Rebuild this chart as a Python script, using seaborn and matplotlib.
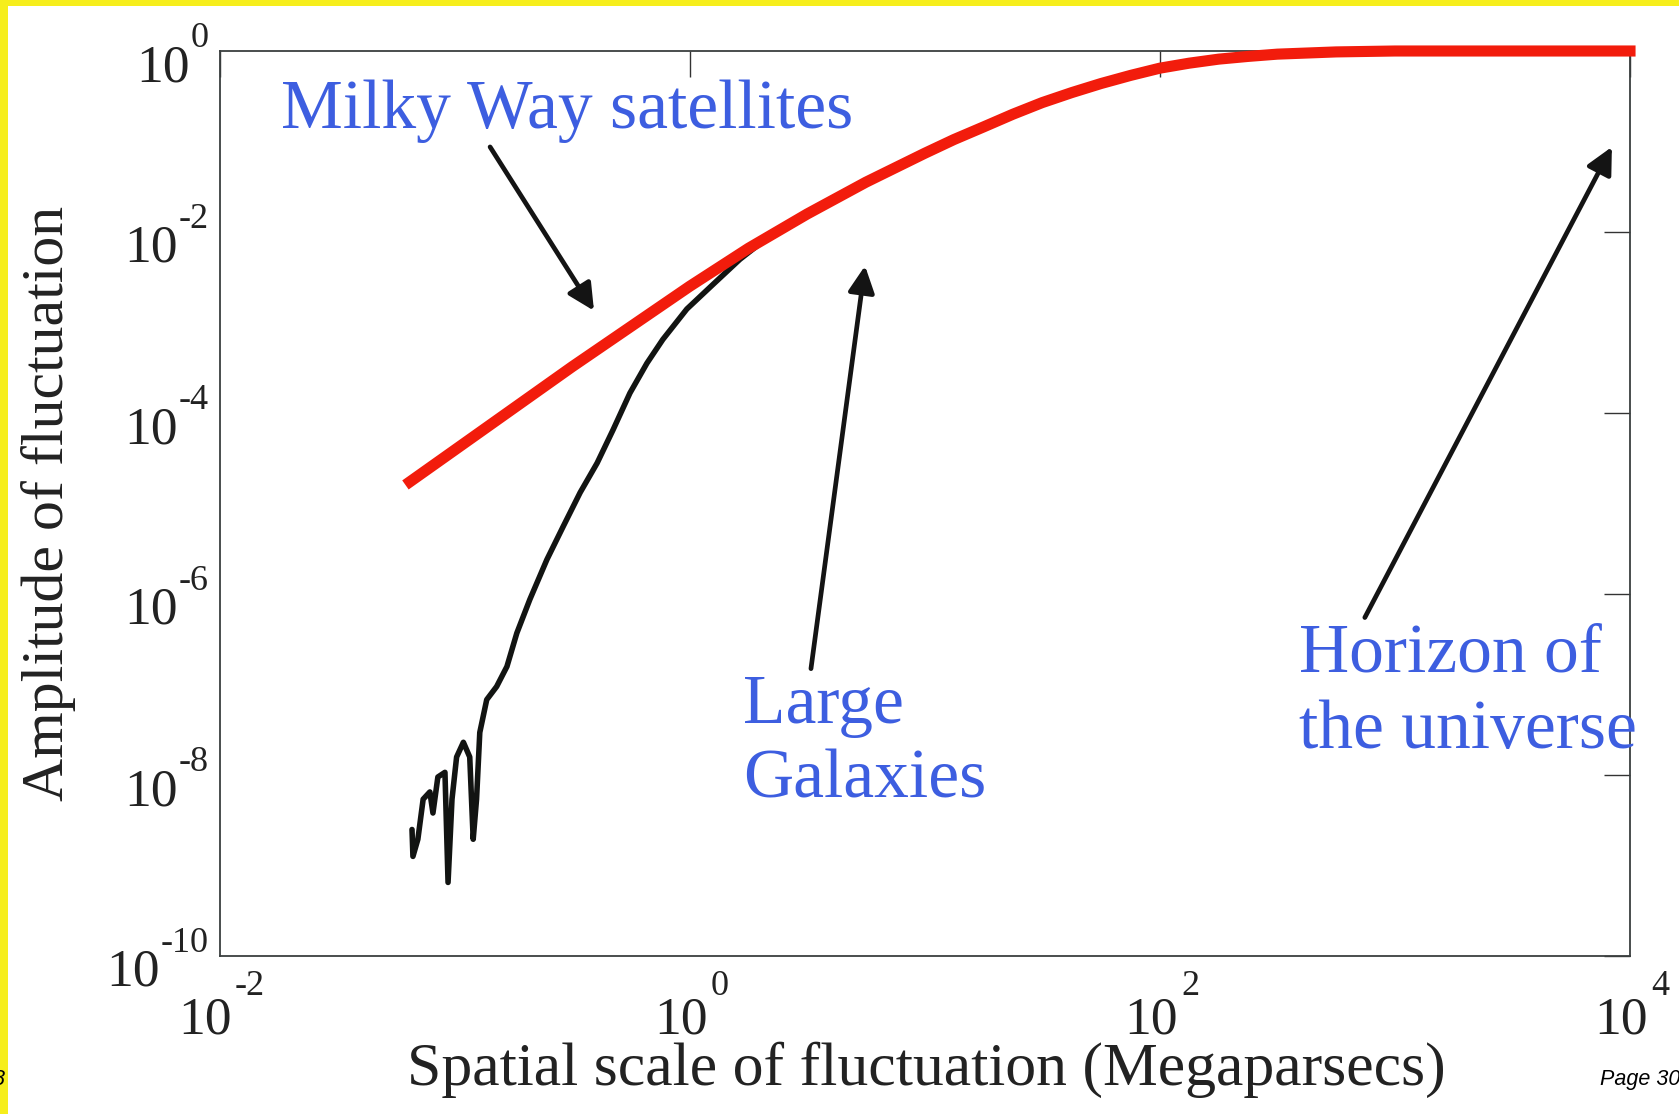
import matplotlib
matplotlib.use("Agg")
import matplotlib.pyplot as plt
from matplotlib.patches import Rectangle
from matplotlib.ticker import FixedLocator, NullFormatter, NullLocator
from matplotlib.transforms import IdentityTransform
import numpy as np
import pandas as pd
import seaborn as sns

# Amplitude of fluctuation vs spatial scale (Mpc)
red_scale = [0.0646, 0.1, 0.316, 1.0, 1.78, 3.16, 5.62, 10.0, 13.3, 17.8,
             23.7, 31.6, 42.2, 56.2, 75.0, 100.0, 133.0, 178.0, 237.0, 316.0,
             562.0, 1000.0, 3160.0, 10000.0]
red_amp = [1.74e-5, 3.89e-5, 3.24e-4, 2.51e-3, 6.61e-3, 0.0158, 0.0355, 0.0741,
           0.105, 0.145, 0.20, 0.269, 0.347, 0.437, 0.537, 0.646, 0.733, 0.813,
           0.871, 0.923, 0.977, 1.0, 1.0, 1.0]

black_scale = [0.0659, 0.0665, 0.0698, 0.0735, 0.0785, 0.0809, 0.0849, 0.0910,
               0.0938, 0.0975, 0.102, 0.109, 0.116, 0.120, 0.124, 0.128,
               0.137, 0.151, 0.167, 0.184, 0.209, 0.247, 0.289, 0.342, 0.404,
               0.472, 0.557, 0.658, 0.769, 0.973, 1.256, 1.637, 2.05, 3.16, 5.62]
black_amp = [2.5e-9, 1.26e-9, 1.95e-9, 5.4e-9, 6.5e-9, 3.8e-9, 9.5e-9, 1.07e-8,
             6.5e-10, 5.4e-9, 1.58e-8, 2.3e-8, 1.58e-8, 1.95e-9, 5.4e-9, 2.95e-8,
             6.8e-8, 9.5e-8, 1.58e-7, 3.7e-7, 8.7e-7, 2.4e-6, 5.5e-6, 1.32e-5,
             2.8e-5, 6.5e-5, 1.66e-4, 3.55e-4, 6.5e-4, 1.41e-3, 2.63e-3, 5.0e-3,
             7.9e-3, 0.0158, 0.0355]

x_ticks = [1e-2, 1e0, 1e2, 1e4]
y_ticks = [1e-10, 1e-8, 1e-6, 1e-4, 1e-2, 1e0]

x_label = "Spatial scale of fluctuation (Megaparsecs)"
y_label = "Amplitude of fluctuation"

sns.set_theme(style="white")
plt.rcParams["font.family"] = ["Liberation Serif", "DejaVu Serif"]

W, H = 1679, 1114
fig = plt.figure(figsize=(W / 100, H / 100), dpi=100, facecolor="white")


def fx(x):
    return x / W


def fy(y):
    return 1 - y / H


ax = fig.add_axes([fx(219.5), fy(956), fx(1630) - fx(219.5), fy(51) - fy(956)])
ax.set_facecolor("white")

black_df = pd.DataFrame({"scale": black_scale, "amp": black_amp})
red_df = pd.DataFrame({"scale": red_scale, "amp": red_amp})

sns.lineplot(data=black_df, x="scale", y="amp", ax=ax, color="#121412",
             lw=4.0, sort=False, estimator=None, zorder=3,
             solid_joinstyle="round")
sns.lineplot(data=red_df, x="scale", y="amp", ax=ax, color="#f21c0c",
             lw=8.0, sort=False, estimator=None, zorder=4, clip_on=False,
             solid_capstyle="projecting", solid_joinstyle="round")

ax.set_xscale("log")
ax.set_yscale("log")
ax.set_xlim(1e-2, 1e4)
ax.set_ylim(1e-10, 1e0)

ax.xaxis.set_major_locator(FixedLocator(x_ticks))
ax.yaxis.set_major_locator(FixedLocator(y_ticks))
ax.xaxis.set_minor_locator(NullLocator())
ax.yaxis.set_minor_locator(NullLocator())
ax.xaxis.set_major_formatter(NullFormatter())
ax.yaxis.set_major_formatter(NullFormatter())
ax.tick_params(axis="both", which="major", direction="in", length=19,
               width=1.0, color="#333333", top=True, right=True)

for s in ax.spines.values():
    s.set_visible(True)
    s.set_color("#3a3f3f")
    s.set_linewidth(1.3)

ax.set_xlabel(x_label, fontsize=44.5, color="#222222")
ax.set_ylabel(y_label, fontsize=43, color="#222222")
ax.xaxis.set_label_coords(fx(926), fy(1070), transform=fig.transFigure)
ax.xaxis.label.set_verticalalignment("center")
ax.yaxis.set_label_coords(fx(49), fy(503), transform=fig.transFigure)
ax.yaxis.label.set_verticalalignment("center")

# Power-of-ten tick labels with a raised exponent
renderer = fig.canvas.get_renderer()
ident = IdentityTransform()
base_fs, sup_fs = 38.5, 26
lab_kw = dict(color="#222222", va="baseline", transform=ident)


def exp_text(v):
    e = int(round(np.log10(v)))
    return ("-%d" % -e) if e < 0 else "%d" % e


for v in y_ticks:
    _, ty = ax.transData.transform((1e-2, v))
    right = 209
    sup = fig.text(right, ty + 4, exp_text(v), fontsize=sup_fs, ha="right", **lab_kw)
    w = sup.get_window_extent(renderer).width
    fig.text(right - w - 1, ty - 30, "10", fontsize=base_fs, ha="right", **lab_kw)

for v in x_ticks:
    tx, ty = ax.transData.transform((v, 1e-10))
    base = fig.text(0, ty - 77, "10", fontsize=base_fs, ha="left", **lab_kw)
    sup = fig.text(0, ty - 39, exp_text(v), fontsize=sup_fs, ha="left", **lab_kw)
    wb = base.get_window_extent(renderer).width
    ws = sup.get_window_extent(renderer).width
    left = tx - (wb + 3 + ws) / 2 + 2
    base.set_x(left)
    sup.set_x(left + wb + 3)

# Annotation arrows (tail -> head), in data coordinates
arrow_kw = dict(arrowstyle="-|>", color="#141414", lw=3.4,
                mutation_scale=40, shrinkA=0, shrinkB=0)
ax.annotate("", xy=(10 ** -0.407, 10 ** -2.87), xytext=(10 ** -0.849, 10 ** -1.06),
            arrowprops=arrow_kw, annotation_clip=False)
ax.annotate("", xy=(10 ** 0.746, 10 ** -2.374), xytext=(10 ** 0.516, 10 ** -6.825),
            arrowprops=arrow_kw, annotation_clip=False)
ax.annotate("", xy=(10 ** 3.923, 10 ** -1.06), xytext=(10 ** 2.872, 10 ** -6.26),
            arrowprops=arrow_kw, annotation_clip=False)

blue = "#3d5ee0"
txt_kw = dict(fontsize=50, color=blue, ha="left", va="baseline")
fig.text(fx(281), fy(128), "Milky Way satellites", **txt_kw)
fig.text(fx(743), fy(723), "Large", **txt_kw)
fig.text(fx(743), fy(798), "Galaxies", **txt_kw)
fig.text(fx(1299), fy(671), "Horizon of", **txt_kw)
fig.text(fx(1299), fy(748), "the universe", **txt_kw)

# Page footer
foot_kw = dict(fontsize=15.5, style="italic", family="Liberation Sans",
               color="black", va="baseline")
fig.text(fx(1600), fy(1085), "Page 30", ha="left", **foot_kw)
fig.text(fx(4), fy(1085), "8", ha="right", **foot_kw)

# Yellow page border
fig.patches.append(Rectangle((0, 0), fx(8), 1, transform=fig.transFigure,
                             facecolor="#f6ee1c", edgecolor="none", zorder=0))
fig.patches.append(Rectangle((0, fy(6)), 1, 6 / H, transform=fig.transFigure,
                             facecolor="#f6ee1c", edgecolor="none", zorder=0))

fig.savefig("out.png", dpi=100, facecolor="white")
